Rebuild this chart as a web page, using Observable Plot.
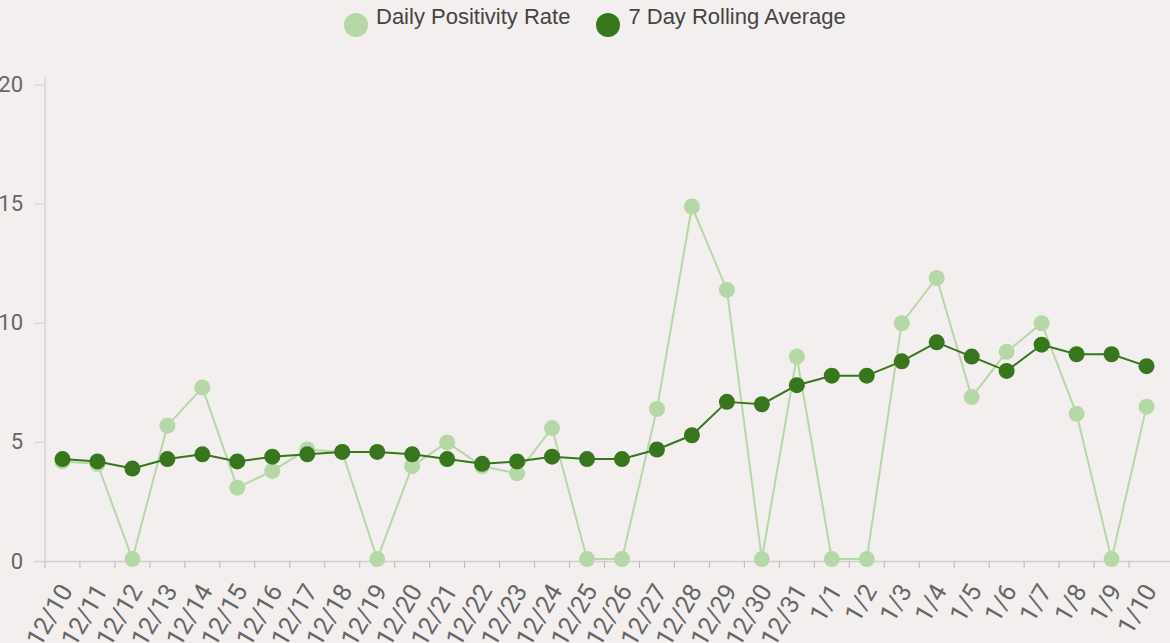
<!DOCTYPE html>
<html><head><meta charset="utf-8">
<script src="https://cdn.jsdelivr.net/npm/d3@7"></script>
<script src="https://cdn.jsdelivr.net/npm/@observablehq/plot@0.6"></script>
<style>
html,body{margin:0;padding:0;background:#f3efee;overflow:hidden;}
#legend{height:45px;display:flex;align-items:flex-start;padding-left:344px;font-family:"Liberation Sans",Arial,sans-serif;font-size:22px;color:#444;}
.item{display:flex;align-items:flex-start;margin-right:26px}
.sw{width:24px;height:24px;border-radius:50%;margin-top:12.5px;margin-right:8px}
.lab{margin-top:6px;line-height:22px;white-space:nowrap}
#chart svg{display:block;background:transparent;}
</style>
</head><body>
<div id="legend"></div>
<div id="chart"></div>
<script>
const dates = ["12/10","12/11","12/12","12/13","12/14","12/15","12/16","12/17","12/18","12/19","12/20","12/21","12/22","12/23","12/24","12/25","12/26","12/27","12/28","12/29","12/30","12/31","1/1","1/2","1/3","1/4","1/5","1/6","1/7","1/8","1/9","1/10"];
const daily = [4.2,4.1,0.1,5.7,7.3,3.1,3.8,4.7,4.6,0.1,4.0,5.0,4.0,3.7,5.6,0.1,0.1,6.4,14.9,11.4,0.1,8.6,0.1,0.1,10.0,11.9,6.9,8.8,10.0,6.2,0.1,6.5];
const rolling = [4.3,4.2,3.9,4.3,4.5,4.2,4.4,4.5,4.6,4.6,4.5,4.3,4.1,4.2,4.4,4.3,4.3,4.7,5.3,6.7,6.6,7.4,7.8,7.8,8.4,9.2,8.6,8.0,9.1,8.7,8.7,8.2];
const yTicks = [0,5,10,15,20];
const seriesNames = ["Daily Positivity Rate","7 Day Rolling Average"];
const colors = ["#b6d7a8","#38761d"];

const legend = document.getElementById("legend");
seriesNames.forEach((n,i)=>{
  const it = document.createElement("div"); it.className="item";
  const sw = document.createElement("div"); sw.className="sw"; sw.style.background=colors[i];
  const lb = document.createElement("div"); lb.className="lab"; lb.textContent=n;
  it.append(sw,lb); legend.append(it);
});

const rows = dates.map((d,i)=>({date:d, daily:daily[i], rolling:rolling[i]}));
const W = 1170, ML = 44.5, MR = 6.5;
const step = (W-ML-MR)/dates.length;
const font = "Roboto";

const chart = Plot.plot({
  width: W, height: 598,
  marginTop: 39.5, marginBottom: 82, marginLeft: ML, marginRight: MR,
  style: {background:"transparent", fontFamily: font, color:"#666", overflow:"visible"},
  x: {type:"point", domain: dates, padding: 0.5, axis: null},
  y: {domain:[0,20], axis: null},
  marks: [
    Plot.ruleY([0], {stroke:"#d3cfcf", strokeWidth:1.5, insetLeft:-10, insetRight:-7}),
    Plot.frame({anchor:"left", stroke:"#d8d4d4", strokeWidth:1.5, insetTop:-7}),
    Plot.axisY({ticks: yTicks, tickSize:10, tickPadding:12, fontSize:22, fontFamily:font, stroke:"#d3cfcf", fill:"#666", label:null}),
    Plot.axisX({ticks: dates, tickSize:7, dx:-step/2, tickFormat:()=>"", stroke:"#bdb9b9", label:null}),
    Plot.axisX({ticks: dates, tickSize:0, tickPadding:25, tickRotate:-60, fontSize:25, fontFamily:font, fill:"#666", label:null, dx:4}),
    Plot.line(rows, {x:"date", y:"daily", stroke:colors[0], strokeWidth:2}),
    Plot.dot(rows, {x:"date", y:"daily", r:8, fill:colors[0]}),
    Plot.line(rows, {x:"date", y:"rolling", stroke:colors[1], strokeWidth:2}),
    Plot.dot(rows, {x:"date", y:"rolling", r:8, fill:colors[1]})
  ]
});
document.getElementById("chart").append(chart);
</script>
</body></html>
